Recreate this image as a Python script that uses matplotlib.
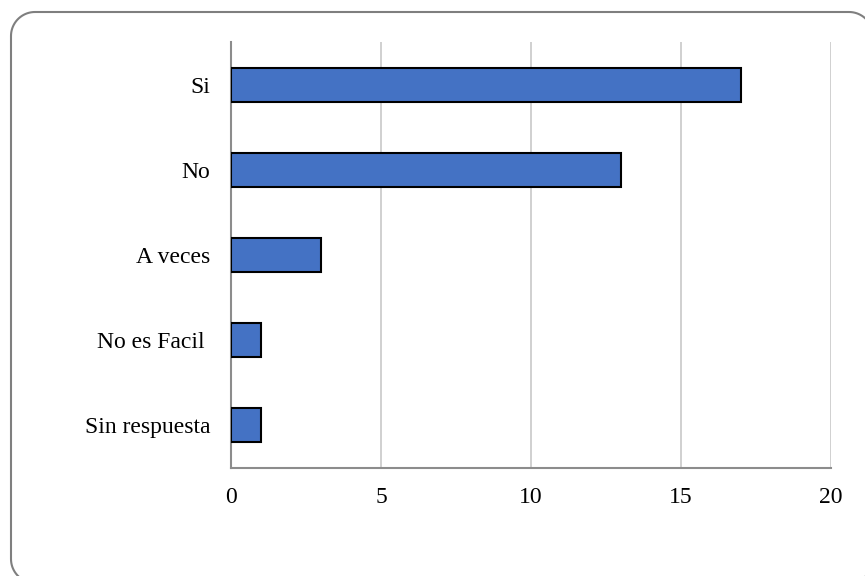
import numpy as np
import matplotlib.pyplot as plt
from matplotlib.lines import Line2D
from matplotlib.transforms import IdentityTransform

categories = ["Si", "No", "A veces", "No es Facil ", "Sin respuesta"]
values = [17, 13, 3, 1, 1]
xticks = [0, 5, 10, 15, 20]

plt.rcParams['font.family'] = ['Liberation Serif', 'DejaVu Serif']

fig = plt.figure(figsize=(8.65, 5.76), dpi=100)
ax = fig.add_axes([231/865, 1 - 468/576, 600/865, 426/576])

pos = list(range(len(categories)))
ax.barh(pos, values, height=0.4, color="#4472C4", edgecolor="black", linewidth=1.5, zorder=3)
ax.set_ylim(len(categories) - 0.5, -0.5)
ax.set_yticks(pos)
ax.set_yticklabels(categories, fontsize=17)
ax.set_xlim(0, 20)
ax.set_xticks(xticks)
ax.set_xticklabels([str(t) for t in xticks], fontsize=17)
ax.tick_params(length=0)
ax.tick_params(axis='y', pad=15)
ax.tick_params(axis='x', pad=14)
ax.grid(axis='x', color="#C8C8C8", linewidth=1.2, zorder=0)
for s in ["top", "right"]:
    ax.spines[s].set_visible(False)
for s in ["left", "bottom"]:
    ax.spines[s].set_color("#8C8C8C")
    ax.spines[s].set_linewidth(1.5)

# rounded chart border in pixel coords, a bit larger than the image
x0, x1, y0, y1, r = 11, 873, -7, 564, 24
corners = [((x0 + r, y0 + r), 270, 180), ((x0 + r, y1 - r), 180, 90),
           ((x1 - r, y1 - r), 90, 0), ((x1 - r, y0 + r), 0, -90)]
bx, by = [], []
for (cx, cy), a0, a1 in corners:
    t = np.radians(np.linspace(a0, a1, 20))
    bx.extend(cx + r * np.cos(t))
    by.extend(cy + r * np.sin(t))
bx.append(bx[0])
by.append(by[0])
fig.add_artist(Line2D(bx, by, transform=IdentityTransform(), color="#7F7F7F", linewidth=1.5))

fig.savefig("out.png", dpi=100)
